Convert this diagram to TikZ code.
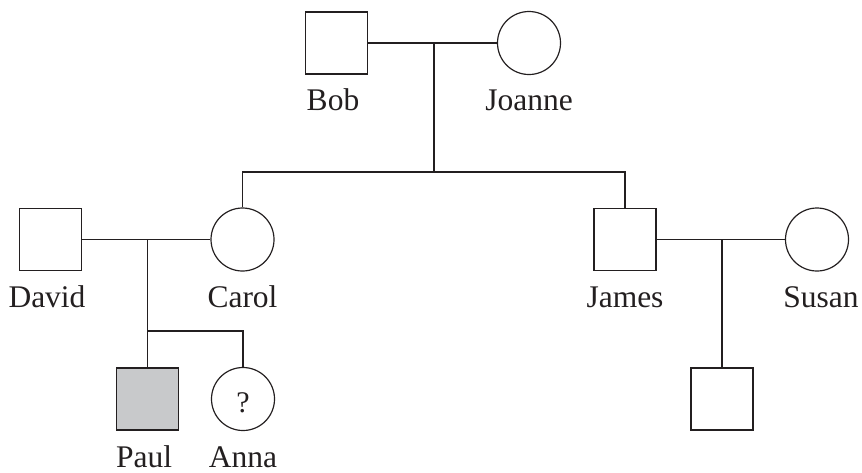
\documentclass[tikz,border=0pt]{standalone}
\usepackage{fontspec}
\setmainfont{Liberation Serif}
\definecolor{affected}{RGB}{200,201,203}
\definecolor{ink}{RGB}{35,31,32}
\begin{document}
\begin{tikzpicture}[x=1pt,y=-1pt,
  line width=1.2pt, draw=ink,
  male/.style={draw=ink,rectangle,minimum size=62pt,inner sep=0pt,line width=1.2pt},
  female/.style={draw=ink,circle,minimum size=63pt,inner sep=0pt,line width=1.2pt},
  lbl/.style={anchor=base,inner sep=0pt,text=ink,font=\fontsize{31.5}{36}\selectfont},
  link/.style={draw=ink,line width=1.2pt}]
\useasboundingbox (0,0) rectangle (862,472);
% generation I
\node[male] (bob) at (336.5,43) {};
\node[female] (joanne) at (529,43) {};
% generation II
\node[male] (david) at (50.5,239.5) {};
\node[female] (carol) at (242.5,239.5) {};
\node[male] (james) at (625,239.5) {};
\node[female] (susan) at (817,239.5) {};
% generation III
\node[male,fill=affected] (paul) at (147.5,399) {};
\node[female] (anna) at (243,399) {};
\node[male] (child) at (722,399) {};
% labels
\node[lbl] (lbob) at (333,110) {Bob};
\node[lbl] (ljoanne) at (529,110) {Joanne};
\node[lbl] (ldavid) at (47,307) {David};
\node[lbl] (lcarol) at (242.5,307) {Carol};
\node[lbl] (ljames) at (625,307) {James};
\node[lbl] (lsusan) at (821,307) {Susan};
\node[lbl] (lpaul) at (144,467) {Paul};
\node[lbl] (lanna) at (243,467) {Anna};
\node[lbl,font=\fontsize{30}{36}\selectfont] (q) at (243,412) {?};
% connectors
\coordinate (m1) at (434,43);
\coordinate (s1) at (434,172);
\coordinate (m2) at (147.5,239.5);
\coordinate (s2) at (147.5,331);
\coordinate (m3) at (722,239.5);
\draw[link] (bob.east) -- (joanne.west);
\draw[link] (m1) -- (s1);
\draw[link] (carol.north) |- (s1) -| (james.north);
\draw[link] (david.east) -- (carol.west);
\draw[link] (m2) -- (paul.north);
\draw[link] (s2) -| (anna.north);
\draw[link] (james.east) -- (susan.west);
\draw[link] (m3) -- (child.north);
\end{tikzpicture}
\end{document}
